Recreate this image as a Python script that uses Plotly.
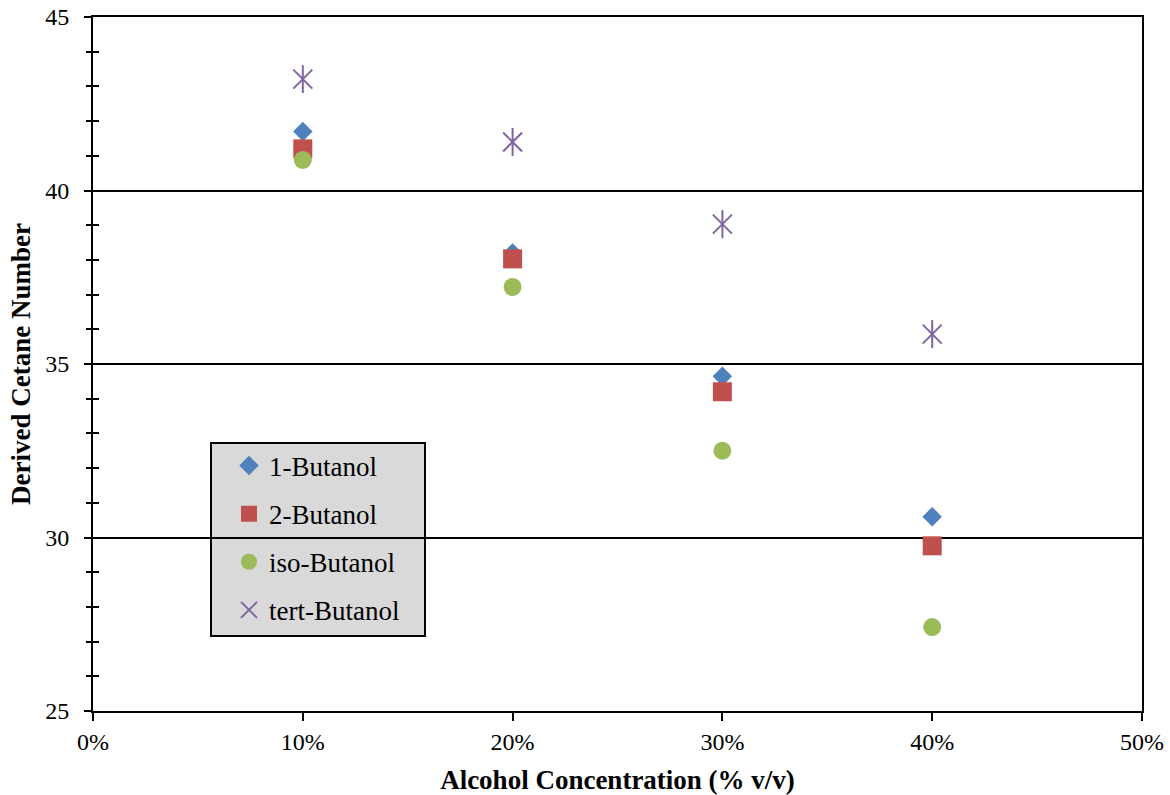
import plotly.graph_objects as go

concentration = [0.10, 0.20, 0.30, 0.40]
butanol_1 = [41.7, 38.2, 34.65, 30.6]
butanol_2 = [41.2, 38.03, 34.2, 29.76]
iso_butanol = [40.88, 37.22, 32.5, 27.42]
tert_butanol = [43.21, 41.4, 39.03, 35.86]

FONT = "Liberation Serif"
L, R, T, B = 93, 28, 17, 84
W, H = 1170, 795
pw, ph = W - L - R, H - T - B

def px(xp):
    return (xp - L) / pw

def py(yp):
    return (H - B - yp) / ph

fig = go.Figure()
fig.add_trace(go.Scatter(x=concentration, y=butanol_1, mode="markers", name="1-Butanol",
                         legendgroup="a",
                         marker=dict(symbol="diamond", size=15, color="#4f81bd", line=dict(width=0))))
fig.add_trace(go.Scatter(x=concentration, y=butanol_2, mode="markers", name="2-Butanol",
                         legendgroup="b",
                         marker=dict(symbol="square", size=19, color="#c0504d", line=dict(width=0))))
fig.add_trace(go.Scatter(x=concentration, y=iso_butanol, mode="markers", name="iso-Butanol",
                         legendgroup="c",
                         marker=dict(symbol="circle", size=18, color="#9bbb59", line=dict(width=0))))
fig.add_trace(go.Scatter(x=concentration, y=tert_butanol, mode="markers", name="tert-Butanol",
                         legendgroup="d",
                         marker=dict(symbol="x-thin-open", size=19, color="#8064a2",
                                     line=dict(width=2, color="#8064a2"))))
fig.add_trace(go.Scatter(x=concentration, y=tert_butanol, mode="markers", name="tert-Butanol",
                         legendgroup="d", showlegend=False, yaxis="y2",
                         marker=dict(symbol="line-ns-open", size=20, color="#8064a2",
                                     line=dict(width=2, color="#8064a2"))))

fig.update_layout(
    width=W, height=H,
    margin=dict(l=L, r=R, t=T, b=B, autoexpand=False),
    paper_bgcolor="white", plot_bgcolor="white",
    font=dict(family=FONT, size=24, color="black"),
    showlegend=True,
    legend=dict(x=px(229), y=py(441.5), xanchor="left", yanchor="top",
                bgcolor="rgba(0,0,0,0)", borderwidth=0,
                traceorder="grouped", tracegroupgap=10,
                font=dict(family=FONT, size=27, color="black")),
    xaxis=dict(range=[0, 0.5], dtick=0.1, tickformat=".0%", automargin=False,
               showgrid=False, zeroline=False,
               showline=True, linecolor="black", linewidth=2, mirror=True,
               ticks="outside", ticklen=8, tickwidth=2, tickcolor="black",
               tickfont=dict(family=FONT, size=24),
               title=dict(text="<b>Alcohol Concentration (% v/v)</b>",
                          font=dict(family=FONT, size=27), standoff=18)),
    yaxis=dict(range=[25, 45], dtick=5, automargin=False,
               showgrid=True, gridcolor="black", gridwidth=2, zeroline=False,
               showline=True, linecolor="black", linewidth=2, mirror=True,
               ticks="outside", ticklen=7, tickwidth=2, tickcolor="black",
               ticklabelstandoff=10,
               tickfont=dict(family=FONT, size=24),
               minor=dict(dtick=1, ticks="outside", ticklen=5, tickwidth=2,
                          tickcolor="black", showgrid=False),
               title=dict(text="<b>Derived Cetane Number</b>",
                          font=dict(family=FONT, size=27), standoff=7)),
    yaxis2=dict(range=[25, 45], overlaying="y", side="left", dtick=1, automargin=False,
                showgrid=False, zeroline=False, showline=False,
                ticks="inside", ticklen=6, tickwidth=2, tickcolor="black",
                showticklabels=False),
    shapes=[dict(type="rect", xref="paper", yref="paper",
                 x0=px(211), x1=px(425), y0=py(636), y1=py(443),
                 fillcolor="#d9d9d9", line=dict(color="black", width=2),
                 layer="below")],
)

fig.write_html("out.html", config={"displayModeBar": False},
               post_script="document.body.style.margin='0';")
